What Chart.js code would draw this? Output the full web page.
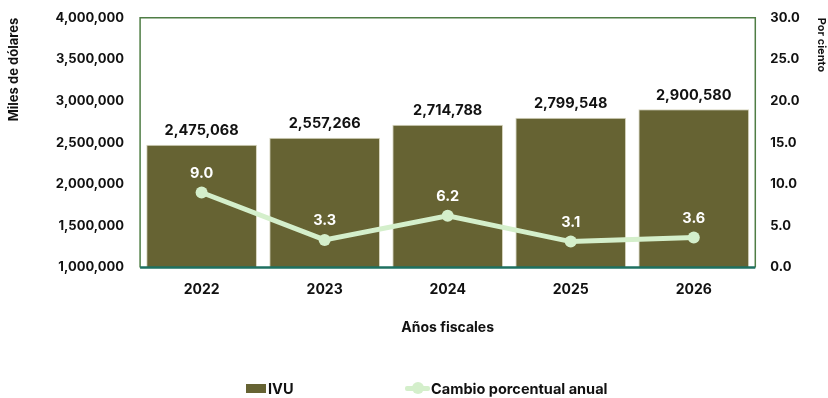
<!DOCTYPE html>
<html lang="es">
<head>
<meta charset="utf-8">
<script src="https://cdn.jsdelivr.net/npm/chart.js@4.4.1/dist/chart.umd.min.js"></script>
<style>
  html, body { margin: 0; padding: 0; background: #fff; }
  #wrap { position: relative; width: 828px; height: 398px; overflow: hidden; }
  canvas { display: block; margin-top: -6px; }
  #legend {
    position: absolute; left: 0; top: 379px; width: 828px; height: 18px;
    font: 700 14.5px Inter, sans-serif; color: #111;
  }
  .item { position: absolute; top: 0; display: flex; align-items: center; height: 18px; }
  .box { width: 20px; height: 9px; background: #666333; margin-right: 2px; }
  .mark { position: relative; width: 25px; height: 12px; margin-right: 1px; }
  .mark::before { content: ""; position: absolute; left: 0; right: 0; top: 4px; height: 5px; background: #d4efcb; border-radius: 2px; }
  .mark::after { content: ""; position: absolute; left: 7px; top: 0; width: 12px; height: 12px; border-radius: 50%; background: #d4efcb; }
</style>
</head>
<body>
<div id="wrap">
  <canvas id="ivu" width="828" height="404"></canvas>
  <div id="legend">
    <div class="item" style="left:246px"><span class="box"></span>IVU</div>
    <div class="item" style="left:405px"><span class="mark"></span>Cambio porcentual anual</div>
  </div>
</div>
<script>
const years = ['2022', '2023', '2024', '2025', '2026'];
const ivu = [2475068, 2557266, 2714788, 2799548, 2900580];
const cambio = [9.0, 3.3, 6.2, 3.1, 3.6];

const FONT = 'Inter, sans-serif';
const fmtMiles = v => v.toLocaleString('en-US');

// etiquetas de valor sobre barras y puntos + marco del área
const labelsPlugin = {
  id: 'labels',
  afterDatasetsDraw(chart) {
    const ctx = chart.ctx;
    const a = chart.chartArea;
    ctx.save();
    ctx.lineWidth = 1.5;
    ctx.strokeStyle = '#4f7d45';
    ctx.beginPath();
    ctx.moveTo(a.left, a.bottom);
    ctx.lineTo(a.left, a.top);
    ctx.lineTo(a.right, a.top);
    ctx.lineTo(a.right, a.bottom);
    ctx.stroke();
    ctx.lineWidth = 2.5;
    ctx.strokeStyle = '#1e7060';
    ctx.beginPath();
    ctx.moveTo(a.left, a.bottom);
    ctx.lineTo(a.right, a.bottom);
    ctx.stroke();

    ctx.font = '700 14.5px ' + FONT;
    ctx.textAlign = 'center';
    ctx.textBaseline = 'middle';
    chart.getDatasetMeta(0).data.forEach((bar, i) => {
      ctx.fillStyle = '#111';
      ctx.fillText(fmtMiles(ivu[i]), bar.x, bar.y - 14);
    });
    chart.getDatasetMeta(1).data.forEach((pt, i) => {
      ctx.fillStyle = '#ffffff';
      ctx.fillText(cambio[i].toFixed(1), pt.x, pt.y - 19);
    });
    ctx.restore();
  }
};

new Chart(document.getElementById('ivu'), {
  data: {
    labels: years,
    datasets: [
      {
        type: 'bar',
        label: 'IVU',
        data: ivu,
        yAxisID: 'y',
        backgroundColor: '#666333',
        borderColor: '#d8d6c0',
        borderWidth: 1,
        barPercentage: 0.9,
        categoryPercentage: 1,
        order: 2
      },
      {
        type: 'line',
        label: 'Cambio porcentual anual',
        data: cambio,
        yAxisID: 'y1',
        borderColor: '#d4efcb',
        backgroundColor: '#d4efcb',
        borderWidth: 5,
        pointRadius: 6,
        pointBackgroundColor: '#d4efcb',
        pointBorderWidth: 0,
        order: 1
      }
    ]
  },
  plugins: [labelsPlugin],
  options: {
    responsive: false,
    animation: false,
    layout: { padding: { top: 0, left: 6, right: 0, bottom: 62 } },
    plugins: {
      legend: { display: false },
      tooltip: { enabled: false }
    },
    scales: {
      x: {
        grid: { display: false, drawTicks: false },
        border: { display: false },
        ticks: { color: '#111', font: { family: FONT, weight: '700', size: 14 }, padding: 14 },
        title: {
          display: true, text: 'Años fiscales', color: '#111',
          font: { family: FONT, weight: '700', size: 14 },
          padding: { top: 7, bottom: 0 }
        }
      },
      y: {
        position: 'left',
        min: 1000000, max: 4000000,
        grid: { display: false, drawTicks: false },
        border: { display: false },
        ticks: {
          stepSize: 500000, color: '#111', padding: 16,
          font: { family: FONT, weight: '700', size: 13 },
          callback: v => fmtMiles(v)
        },
        title: {
          display: true, text: 'Miles de dólares', color: '#111', align: 'end',
          font: { family: FONT, weight: '700', size: 13 },
          padding: { top: 0, bottom: 18 }
        }
      },
      y1: {
        position: 'right',
        min: 0, max: 30,
        grid: { display: false, drawTicks: false },
        border: { display: false },
        ticks: {
          stepSize: 5, color: '#111', padding: 15,
          font: { family: FONT, weight: '700', size: 13 },
          callback: v => v.toFixed(1)
        },
        title: {
          display: true, text: 'Por ciento', color: '#111', align: 'end',
          font: { family: FONT, weight: '700', size: 11 },
          padding: { top: 0, bottom: 0 }
        }
      }
    }
  }
});
</script>
</body>
</html>
